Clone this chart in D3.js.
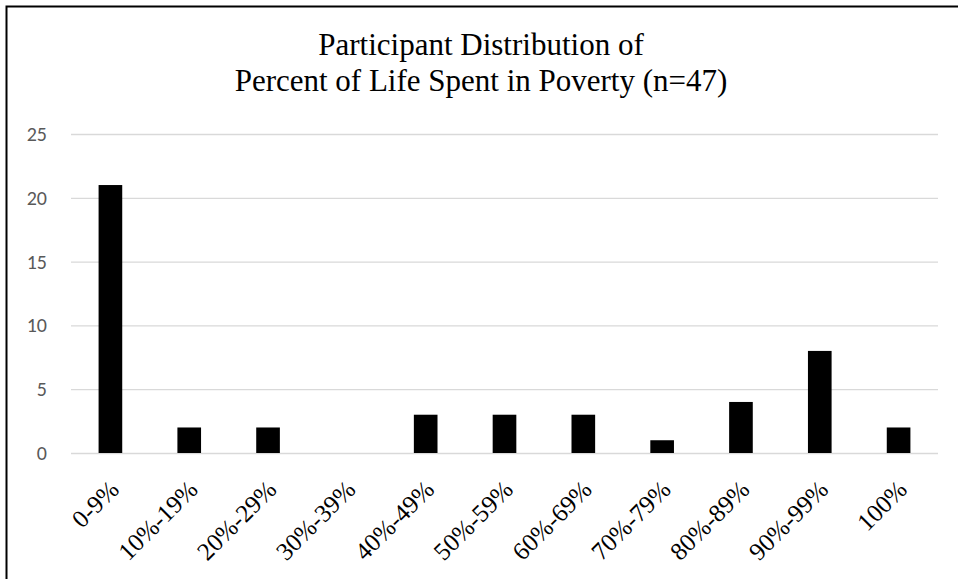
<!DOCTYPE html>
<meta charset="utf-8">
<body style="margin:0;background:#fff">
<div id="chart"></div>
<script src="https://d3js.org/d3.v7.min.js"></script>
<script>
// data
var categories = ["0-9%", "10%-19%", "20%-29%", "30%-39%", "40%-49%", "50%-59%",
  "60%-69%", "70%-79%", "80%-89%", "90%-99%", "100%"];
var counts = [21, 2, 2, 0, 3, 3, 3, 1, 4, 8, 2];
var yTicks = [0, 5, 10, 15, 20, 25];
var titleLines = ["Participant Distribution of", "Percent of Life Spent in Poverty (n=47)"];

var W = 958, H = 579;
var margin = {top: 134, right: 20, bottom: 126, left: 71};
var width = W - margin.left - margin.right,
  height = H - margin.top - margin.bottom;

var serif = "'Liberation Serif', 'Times New Roman', serif";

var svg = d3.select("#chart").append("svg")
  .attr("width", W)
  .attr("height", H);

// outer frame (only left and top edges show in the picture)
svg.append("rect")
  .attr("x", 6.5).attr("y", 6.5)
  .attr("width", W + 20).attr("height", H + 20)
  .style("fill", "none")
  .style("stroke", "#000")
  .style("stroke-width", 2);

// title
svg.append("text")
  .attr("x", 481)
  .attr("y", 55)
  .style("text-anchor", "middle")
  .style("font-family", serif)
  .style("font-size", "31px")
  .selectAll("tspan")
  .data(titleLines)
  .enter().append("tspan")
  .attr("x", 481)
  .attr("dy", function(d, i) { return i ? 36 : 0; })
  .text(function(d) { return d; });

var g = svg.append("g")
  .attr("transform", "translate(" + margin.left + "," + margin.top + ")");

var x = d3.scaleBand()
  .domain(categories)
  .range([0, width])
  .paddingInner(0.7)
  .paddingOuter(0.35);

var y = d3.scaleLinear()
  .domain([0, 25])
  .range([height, 0]);

// gridlines + y labels
var yAxis = g.append("g")
  .call(d3.axisLeft(y).tickValues(yTicks).tickSize(-width).tickPadding(24));
yAxis.select(".domain").remove();
yAxis.selectAll(".tick line")
  .style("stroke", "#d9d9d9")
  .style("stroke-width", 1.3);
yAxis.selectAll(".tick text")
  .style("font-family", "Carlito, Calibri, 'Liberation Sans', sans-serif")
  .style("font-size", "20px")
  .style("fill", "#595959");

// bars
g.selectAll(".bar")
  .data(counts)
  .enter().append("rect")
  .attr("class", "bar")
  .attr("x", function(d, i) { return x(categories[i]); })
  .attr("y", function(d) { return y(d); })
  .attr("width", x.bandwidth())
  .attr("height", function(d) { return height - y(d); })
  .style("fill", "#000");

// x axis labels, rotated like the original
var xAxis = g.append("g")
  .attr("transform", "translate(0," + height + ")")
  .call(d3.axisBottom(x).tickSize(0).tickPadding(0));
xAxis.select(".domain").remove();
xAxis.selectAll(".tick text")
  .attr("font-family", null)
  .style("font-family", serif)
  .style("font-size", "25px")
  .style("fill", "#000")
  .style("text-anchor", "end")
  .attr("y", 0)
  .attr("dy", 0)
  .attr("transform", "translate(10,38) rotate(-45)");
</script>
</body>
